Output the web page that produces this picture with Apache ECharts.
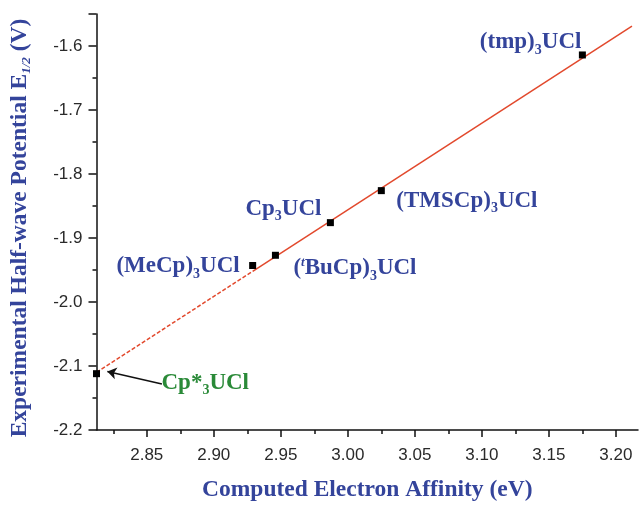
<!DOCTYPE html>
<html>
<head>
<meta charset="utf-8">
<script src="https://cdn.jsdelivr.net/npm/echarts@6/dist/echarts.min.js"></script>
<style>
  html, body { margin: 0; padding: 0; background: #fff; }
  #main { width: 639px; height: 507px; }
</style>
</head>
<body>
<div id="main"></div>
<script>
// compounds: computed electron affinity (eV) vs experimental E1/2 (V)
var names = ['(tmp)3UCl', '(TMSCp)3UCl', 'Cp3UCl', '(tBuCp)3UCl', '(MeCp)3UCl', 'Cp*3UCl'];
var affinity = [3.175, 3.025, 2.987, 2.946, 2.929, 2.8125];
var potential = [-1.614, -1.826, -1.876, -1.927, -1.943, -2.112];

// fitted line, solid part and dashed extrapolation
var fitSolidX = [2.929, 3.212];
var fitSolidY = [-1.952, -1.569];
var fitDashX = [2.8125, 2.929];
var fitDashY = [-2.110, -1.952];

// arrow pointing at Cp*3UCl
var arrowFrom = [2.8613, -2.128];
var arrowTo = [2.8206, -2.1085];

var xTicks = [2.85, 2.90, 2.95, 3.00, 3.05, 3.10, 3.15, 3.20];
var xMinorTicks = [2.825, 2.875, 2.925, 2.975, 3.025, 3.075, 3.125, 3.175];

var blue = '#34449b';
var green = '#2a8a38';
var serif = '"Liberation Serif", "Times New Roman", serif';
var sans = '"Liberation Sans", Arial, sans-serif';

// label text + placement for each compound
var labelRich = [
  '{m|(tmp)}{s|3}{m|UCl}',
  '{m|(TMSCp)}{s|3}{m|UCl}',
  '{m|Cp}{s|3}{m|UCl}',
  '{m|(}{t|t}{m|BuCp)}{s|3}{m|UCl}',
  '{m|(MeCp)}{s|3}{m|UCl}',
  '{g|Cp*}{gs|3}{g|UCl}'
];
var labelAlign = ['right', 'left', 'right', 'left', 'right', 'left'];
var labelOffset = [[-1, -13], [15, 10], [-9, -14], [18, 13], [-13, 1], [65, 9]];

var rich = {
  m: { fontFamily: serif, fontWeight: 'bold', fontSize: 23, color: blue },
  s: { fontFamily: serif, fontWeight: 'bold', fontSize: 14, color: blue, padding: [16, 0, 0, 0] },
  t: { fontFamily: serif, fontWeight: 'bold', fontStyle: 'italic', fontSize: 13, color: blue, padding: [0, 0, 11, 0] },
  g: { fontFamily: serif, fontWeight: 'bold', fontSize: 23, color: green },
  gs: { fontFamily: serif, fontWeight: 'bold', fontSize: 14, color: green, padding: [16, 0, 0, 0] }
};

var points = affinity.map(function (x, i) {
  return {
    value: [x, potential[i]],
    name: names[i],
    label: {
      show: true,
      position: 'inside',
      align: labelAlign[i],
      verticalAlign: 'middle',
      offset: labelOffset[i],
      formatter: labelRich[i],
      rich: rich
    }
  };
});

var myChart = echarts.init(document.getElementById('main'));
myChart.setOption({
  animation: false,
  grid: { left: 92, top: 14, right: 1, bottom: 69 },
  xAxis: [{
    type: 'value',
    min: 2.8125,
    max: 3.2165,
    name: 'Computed Electron Affinity (eV)',
    nameLocation: 'middle',
    nameGap: 48,
    nameTextStyle: { fontFamily: serif, fontWeight: 'bold', fontSize: 23.5, color: blue },
    axisLine: { lineStyle: { color: '#111', width: 1.5 } },
    axisTick: { show: true, length: 7, customValues: xTicks, lineStyle: { color: '#111', width: 1.5 } },
    axisLabel: {
      customValues: xTicks, margin: 17, fontFamily: sans, fontSize: 17, color: '#2a2a2a',
      formatter: function (v) { return v.toFixed(2); }
    },
    splitLine: { show: false }
  }, {
    type: 'value',
    min: 2.8125,
    max: 3.2165,
    position: 'bottom',
    axisLine: { show: false },
    axisTick: { show: true, length: 4, customValues: xMinorTicks, lineStyle: { color: '#111', width: 1.5 } },
    axisLabel: { show: false },
    splitLine: { show: false }
  }],
  yAxis: {
    type: 'value',
    min: -2.2,
    max: -1.55,
    interval: 0.1,
    name: 'Experimental Half-wave Potential E{sub|1/2} (V)',
    nameLocation: 'middle',
    nameGap: 63,
    nameTextStyle: {
      fontFamily: serif, fontWeight: 'bold', fontSize: 23.5, color: blue, padding: [0, 12, 0, 0],
      rich: {
        sub: { fontFamily: serif, fontWeight: 'bold', fontStyle: 'italic', fontSize: 13, color: blue, padding: [14, 0, 0, 0] }
      }
    },
    axisLine: { show: true, lineStyle: { color: '#111', width: 1.5 } },
    axisTick: { show: true, length: 8, lineStyle: { color: '#111', width: 1.5 } },
    minorTick: { show: true, splitNumber: 2, length: 4, lineStyle: { color: '#111', width: 1.5 } },
    axisLabel: {
      margin: 14, fontFamily: sans, fontSize: 17, color: '#2a2a2a', showMaxLabel: false,
      formatter: function (v) { return v.toFixed(1); }
    },
    splitLine: { show: false }
  },
  series: [{
    type: 'line',
    data: fitDashX.map(function (x, i) { return [x, fitDashY[i]]; }),
    symbol: 'none',
    lineStyle: { color: '#e2492d', width: 1.5, type: [4, 2] },
    z: 1
  }, {
    type: 'line',
    data: fitSolidX.map(function (x, i) { return [x, fitSolidY[i]]; }),
    symbol: 'none',
    lineStyle: { color: '#e2492d', width: 1.5 },
    z: 1,
    markLine: {
      silent: true,
      symbol: ['none', 'arrow'],
      symbolSize: 9,
      label: { show: false },
      lineStyle: { color: '#111', width: 1.5, type: 'solid' },
      data: [[{ coord: arrowFrom }, { coord: arrowTo }]]
    }
  }, {
    type: 'scatter',
    data: points,
    symbol: 'rect',
    symbolSize: 7,
    itemStyle: { color: '#000', opacity: 1 },
    z: 3
  }]
});
window.onresize = myChart.resize;
</script>
</body>
</html>
